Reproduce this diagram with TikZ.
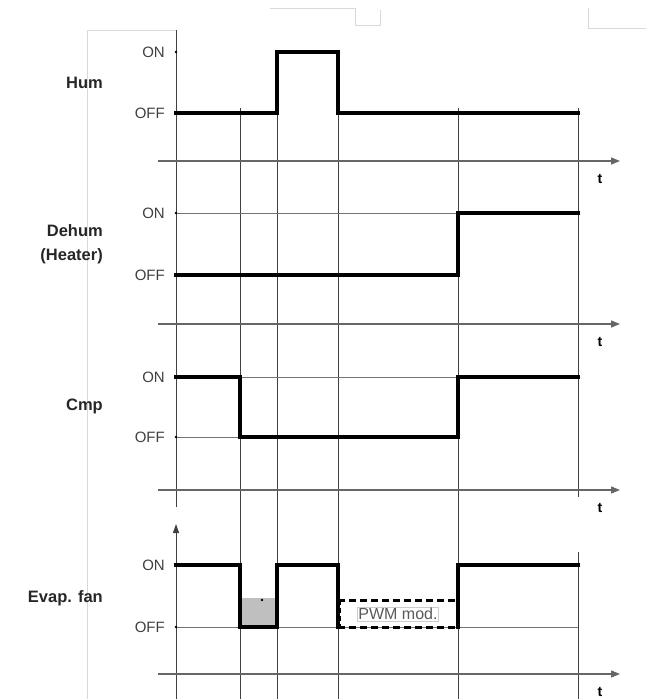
\documentclass[tikz,border=0pt]{standalone}
\usepackage{fontspec}
\setmainfont{Liberation Sans}
\usetikzlibrary{arrows.meta}
\begin{document}
\begin{tikzpicture}[x=1pt,y=-1pt,
  sig/.style={line width=3.2pt,line join=miter,line cap=rect},
  grid/.style={line width=0.8pt,black!55},
  vline/.style={line width=1pt,black!75},
  faint/.style={line width=0.8pt,black!15},
  taxis/.style={line width=1.4pt,black!60,-{Triangle[length=9pt,width=7pt]}},
  lvl/.style={anchor=east,font=\fontsize{15}{16}\selectfont,text=black!75,inner sep=1pt},
  sname/.style={anchor=east,font=\fontsize{16.5}{24}\selectfont\bfseries,text=black!85,align=right,inner sep=1pt},
  tlab/.style={font=\fontsize{14}{14}\selectfont\bfseries,inner sep=0pt}]
\useasboundingbox (0,0) rectangle (646,699);
% faint scan artifacts
\draw[faint] (87,30) -- (87,699);
\draw[faint] (87,30) -- (176,30);
\draw[faint] (270,8) -- (355,8) -- (355,25) -- (380,25) -- (380,10);
\draw[faint] (588,8) -- (588,28) -- (646,28);
% main vertical axis
\coordinate (ax0) at (176,30);
\coordinate (ax1) at (176,507);
\draw[vline] (ax0) -- (ax1);
% evap axis with arrow
\coordinate (ev0) at (176,699);
\coordinate (ev1) at (176,524);
\draw[line width=1pt,black!75,-{Triangle[length=9pt,width=6pt]}] (ev0) -- (ev1);
% event lines
\coordinate (a1) at (240,108); \coordinate (a2) at (240,699);
\coordinate (b1) at (277,52);  \coordinate (b2) at (277,699);
\coordinate (c1) at (338,52);  \coordinate (c2) at (338,699);
\coordinate (d1) at (458,108); \coordinate (d2) at (458,699);
\coordinate (e1) at (578,108); \coordinate (e2) at (578,497);
\coordinate (e3) at (578,552); \coordinate (e4) at (578,699);
\draw[vline] (a1) -- (a2);
\draw[vline] (b1) -- (b2);
\draw[vline] (c1) -- (c2);
\draw[vline] (d1) -- (d2);
\draw[vline] (e1) -- (e2);
\draw[vline] (e3) -- (e4);
% time axes
\foreach \y/\n in {161/h,324/d,490/c,674/f}{
  \coordinate (t\n0) at (158,\y);
  \coordinate (t\n1) at (620,\y);
  \draw[taxis] (t\n0) -- (t\n1);
  \node[tlab] (tl\n) at (600,\y+18) {t};
}
% level grid lines
\draw[grid] (176,213) -- (458,213);
\draw[grid] (176,437) -- (240,437);
\draw[grid] (240,377) -- (458,377);
\draw[grid] (176,627) -- (578,627);
% level labels
\node[lvl] (hon) at (166,52) {ON};
\node[lvl] (hoff) at (166,113) {OFF};
\node[lvl] (don) at (166,213) {ON};
\node[lvl] (doff) at (166,275) {OFF};
\node[lvl] (con) at (166,377) {ON};
\node[lvl] (coff) at (166,437) {OFF};
\node[lvl] (fon) at (166,565) {ON};
\node[lvl] (foff) at (166,627) {OFF};
\foreach \y in {52,113,213,275,377,437,565,627}{\fill (176,\y) circle (1.3pt);}
% signal names
\node[sname] (nhum) at (104,83) {Hum};
\node[sname] (ndeh) at (104,244) {Dehum\\(Heater)};
\node[sname] (ncmp) at (104,406) {Cmp};
\node[sname] (nfan) at (104,598) {Evap. fan};
% grey shaded area
\fill[black!25] (241,598) rectangle (276,626);
\fill (262,600) circle (1.3pt);
% signals
\draw[sig] (176,113) -- (277,113) -- (277,52) -- (338,52) -- (338,113) -- (578,113);
\draw[sig] (176,275) -- (458,275) -- (458,213) -- (578,213);
\draw[sig] (176,377) -- (240,377) -- (240,437) -- (458,437) -- (458,377) -- (578,377);
\draw[sig] (176,565) -- (240,565) -- (240,627) -- (277,627) -- (277,565) -- (338,565) -- (338,627);
\draw[sig] (458,627) -- (458,565) -- (578,565);
% PWM dashed box
\draw[line width=3pt,dash pattern=on 7pt off 4pt] (338,600) -- (458,600);
\draw[line width=3pt,dash pattern=on 7pt off 4pt] (338,627) -- (458,627);
\draw[line width=2pt,dash pattern=on 5pt off 3pt] (340,600) -- (340,627);
\node[font=\fontsize{16}{16}\selectfont,text=black!65,draw=black!20,inner sep=1pt] (pwm) at (398,614) {PWM mod.};
\end{tikzpicture}
\end{document}
